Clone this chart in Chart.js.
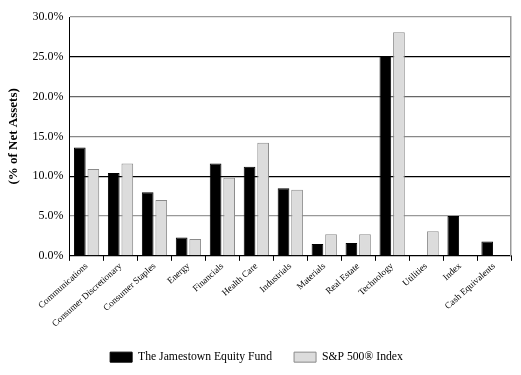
<!DOCTYPE html>
<html>
<head>
<meta charset="utf-8">
<script src="https://cdn.jsdelivr.net/npm/chart.js@4.4.0/dist/chart.umd.min.js"></script>
<style>
  body { margin: 0; background: #fff; }
  #wrap { width: 521px; height: 375px; }
</style>
</head>
<body>
<div id="wrap"><canvas id="sectorChart" width="521" height="375"></canvas></div>
<script>
const sectors = ["Communications", "Consumer Discretionary", "Consumer Staples", "Energy", "Financials",
    "Health Care", "Industrials", "Materials", "Real Estate", "Technology", "Utilities", "Index", "Cash Equivalents"];
const fundValues = [13.6, 10.4, 8.0, 2.3, 11.6, 11.2, 8.5, 1.5, 1.6, 25.1, 0, 5.0, 1.8];
const indexValues = [10.9, 11.6, 7.0, 2.1, 9.8, 14.2, 8.3, 2.7, 2.7, 28.1, 3.1, 0, 0];
const yTicks = [0, 5, 10, 15, 20, 25, 30];

const serif = "'Liberation Serif', 'DejaVu Serif', serif";
// grid lines in the picture are not all the same shade
const gridShade = {0: "#000", 5: "#999", 10: "#000", 15: "#888", 20: "#666", 25: "#000", 30: "#999"};

new Chart(document.getElementById("sectorChart"), {
    type: "bar",
    data: {
        labels: sectors,
        datasets: [
            {
                label: "The Jamestown Equity Fund",
                data: fundValues,
                backgroundColor: "#000",
                borderColor: "#000",
                borderWidth: 1
            },
            {
                label: "S&P 500® Index",
                data: indexValues,
                backgroundColor: "#dcdcdc",
                borderColor: "#8a8a8a",
                borderWidth: 1
            }
        ]
    },
    options: {
        responsive: false,
        animation: false,
        layout: { padding: { top: 17, right: 10, left: 2, bottom: 2 } },
        datasets: { bar: { barPercentage: 0.86, categoryPercentage: 0.8 } },
        plugins: {
            tooltip: { enabled: false },
            legend: {
                position: "bottom",
                labels: {
                    color: "#000",
                    font: { family: serif, size: 11.7 },
                    boxWidth: 22,
                    boxHeight: 10,
                    padding: 22
                }
            }
        },
        scales: {
            x: {
                grid: {
                    offset: true,
                    drawOnChartArea: false,
                    drawTicks: true,
                    tickLength: 5,
                    color: "#000"
                },
                border: { color: "#000", width: 1 },
                ticks: {
                    color: "#000",
                    font: { family: serif, size: 9.2 },
                    minRotation: 42,
                    maxRotation: 42,
                    padding: 0
                }
            },
            y: {
                min: 0,
                max: 30,
                afterBuildTicks: (axis) => { axis.ticks = yTicks.map((v) => ({ value: v })); },
                grid: {
                    color: (ctx) => gridShade[ctx.tick.value] || "#999",
                    lineWidth: 1.2,
                    drawTicks: false
                },
                border: { color: "#000", width: 1 },
                ticks: {
                    color: "#000",
                    font: { family: serif, size: 12 },
                    padding: 6,
                    callback: (v) => v.toFixed(1) + "%"
                },
                title: {
                    display: true,
                    text: "(% of Net Assets)",
                    color: "#000",
                    font: { family: serif, size: 13, weight: "bold" },
                    padding: { bottom: 5 }
                }
            },
            yRight: {
                position: "right",
                min: 0,
                max: 30,
                grid: { drawOnChartArea: false, drawTicks: false },
                border: { color: "#999", width: 1.5 },
                ticks: { display: false }
            }
        }
    }
});
</script>
</body>
</html>
